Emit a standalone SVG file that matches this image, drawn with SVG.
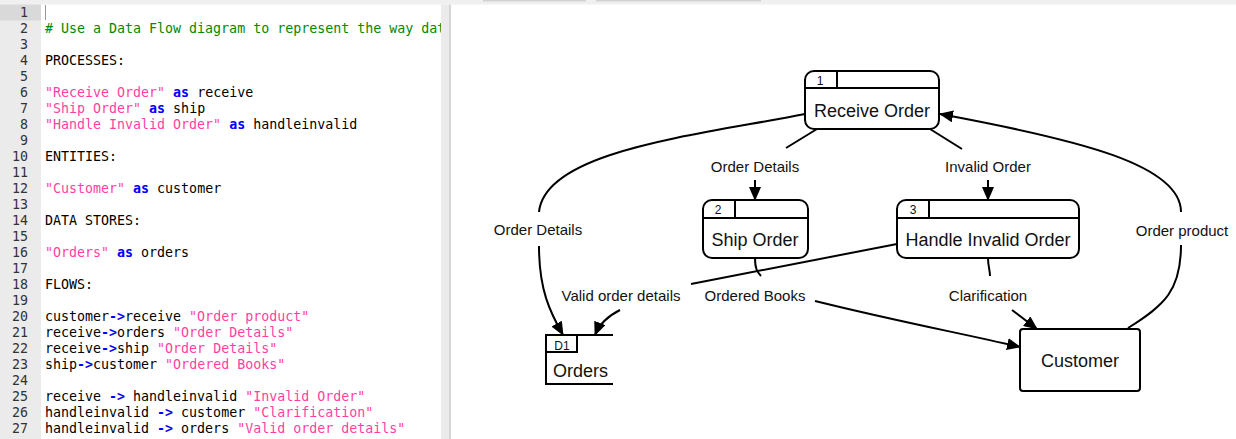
<svg xmlns="http://www.w3.org/2000/svg" width="1236" height="439" viewBox="0 0 1236 439">
<style>
.code{font-family:"DejaVu Sans Mono",monospace;font-size:13.3px;fill:#000}
.ln{font-family:"DejaVu Sans Mono",monospace;font-size:13.3px;fill:#333;text-anchor:end}
.cm{fill:#008a00}
.st{fill:#ff3fa4}
.kw{fill:#0000ff;font-weight:bold}
.box{fill:#fff;stroke:#000;stroke-width:2}
.sep{fill:none;stroke:#000;stroke-width:2}
.nm{font-family:"Liberation Sans",Arial,sans-serif;font-size:18px;fill:#111;text-anchor:middle}
.num{font-family:"Liberation Sans",Arial,sans-serif;font-size:12px;fill:#111;text-anchor:middle}
.lbl{font-family:"Liberation Sans",Arial,sans-serif;font-size:15px;fill:#111;text-anchor:middle}
.edge{fill:none;stroke:#000;stroke-width:2}
</style>
<defs>
<marker id="ah" markerUnits="userSpaceOnUse" markerWidth="14" markerHeight="12" refX="13" refY="6" orient="auto" viewBox="0 0 14 12">
<path d="M0,0 L14,6 L0,12 z" fill="#000"/>
</marker>
<clipPath id="edclip"><rect x="41" y="4" width="400" height="435"/></clipPath>
</defs>
<rect x="0" y="0" width="1236" height="439" fill="#fff"/>
<rect x="0" y="0" width="1236" height="4.5" fill="#f0f0f0"/>
<rect x="483" y="0" width="103" height="1.5" fill="#d2d2d2"/>
<rect x="596" y="0" width="165" height="1.5" fill="#d2d2d2"/>
<g id="editor">
<rect x="0" y="4.5" width="41" height="435" fill="#ebebeb"/>
<rect x="0" y="4.5" width="41" height="16" fill="#d9d9d9"/>
<rect x="441" y="4.5" width="9" height="435" fill="#ebebeb"/>
<rect x="449" y="4.5" width="2" height="435" fill="#d6d6d6"/>
<line x1="45.5" y1="5" x2="45.5" y2="20" stroke="#999" stroke-width="1"/>
<g class="ln">
<text x="28" y="17">1</text><text x="28" y="33">2</text><text x="28" y="49">3</text><text x="28" y="65">4</text><text x="28" y="81">5</text><text x="28" y="97">6</text><text x="28" y="113">7</text><text x="28" y="129">8</text><text x="28" y="145">9</text><text x="28" y="161">10</text><text x="28" y="177">11</text><text x="28" y="193">12</text><text x="28" y="209">13</text><text x="28" y="225">14</text><text x="28" y="241">15</text><text x="28" y="257">16</text><text x="28" y="273">17</text><text x="28" y="289">18</text><text x="28" y="305">19</text><text x="28" y="321">20</text><text x="28" y="337">21</text><text x="28" y="353">22</text><text x="28" y="369">23</text><text x="28" y="385">24</text><text x="28" y="401">25</text><text x="28" y="417">26</text><text x="28" y="433">27</text>
</g>
<g class="code" clip-path="url(#edclip)">
<text x="45" y="33" class="code cm"># Use a Data Flow diagram to represent the way dat</text>
<text x="45" y="65">PROCESSES:</text>
<text x="45" y="97"><tspan class="st">"Receive Order"</tspan> <tspan class="kw">as</tspan> receive</text>
<text x="45" y="113"><tspan class="st">"Ship Order"</tspan> <tspan class="kw">as</tspan> ship</text>
<text x="45" y="129"><tspan class="st">"Handle Invalid Order"</tspan> <tspan class="kw">as</tspan> handleinvalid</text>
<text x="45" y="161">ENTITIES:</text>
<text x="45" y="193"><tspan class="st">"Customer"</tspan> <tspan class="kw">as</tspan> customer</text>
<text x="45" y="225">DATA STORES:</text>
<text x="45" y="257"><tspan class="st">"Orders"</tspan> <tspan class="kw">as</tspan> orders</text>
<text x="45" y="289">FLOWS:</text>
<text x="45" y="321">customer<tspan class="kw">-&gt;</tspan>receive <tspan class="st">"Order product"</tspan></text>
<text x="45" y="337">receive<tspan class="kw">-&gt;</tspan>orders <tspan class="st">"Order Details"</tspan></text>
<text x="45" y="353">receive<tspan class="kw">-&gt;</tspan>ship <tspan class="st">"Order Details"</tspan></text>
<text x="45" y="369">ship<tspan class="kw">-&gt;</tspan>customer <tspan class="st">"Ordered Books"</tspan></text>
<text x="45" y="401">receive <tspan class="kw">-&gt;</tspan> handleinvalid <tspan class="st">"Invalid Order"</tspan></text>
<text x="45" y="417">handleinvalid <tspan class="kw">-&gt;</tspan> customer <tspan class="st">"Clarification"</tspan></text>
<text x="45" y="433">handleinvalid <tspan class="kw">-&gt;</tspan> orders <tspan class="st">"Valid order details"</tspan></text>
</g>
</g>
<g id="connectors">
<path class="edge" d="M805,114 C700,135 545,150 539,212" />
<path class="edge" d="M539,246 C539,290 550,312 563,335" marker-end="url(#ah)"/>
<path class="edge" d="M817,129 L786,148"/>
<path class="edge" d="M755,180 L755,200" marker-end="url(#ah)"/>
<path class="edge" d="M930,129 L962,149"/>
<path class="edge" d="M988,180 L988,200" marker-end="url(#ah)"/>
<path class="edge" d="M1128,328 C1165,305 1181,290 1181,245"/>
<path class="edge" d="M1181,212 C1181,165 1080,140 940,114" marker-end="url(#ah)"/>
<path class="edge" d="M755,258 C755,268 757,272 761,276"/>
<path class="edge" d="M815,301 C900,322 960,333 1020,347" marker-end="url(#ah)"/>
<path class="edge" d="M988,258 C988,266 990,270 990,276"/>
<path class="edge" d="M1012,310 L1037,329" marker-end="url(#ah)"/>
<path class="edge" d="M897,244 L691,284"/>
<path class="edge" d="M620,310 C608,316 599,325 595,335" marker-end="url(#ah)"/>
<text class="lbl" x="538" y="235">Order Details</text>
<text class="lbl" x="755" y="172">Order Details</text>
<text class="lbl" x="988" y="172">Invalid Order</text>
<text class="lbl" x="1182" y="236">Order product</text>
<text class="lbl" x="621" y="301">Valid order details</text>
<text class="lbl" x="755" y="301">Ordered Books</text>
<text class="lbl" x="988" y="301">Clarification</text>
</g>
<g id="receive">
<rect class="box" x="805" y="71" width="134" height="58" rx="9"/>
<path class="sep" d="M805,88 H939 M837,71 V88"/>
<text class="num" x="820" y="85">1</text>
<text class="nm" x="872" y="117">Receive Order</text>
</g>
<g id="ship">
<rect class="box" x="703" y="200" width="105" height="58" rx="9"/>
<path class="sep" d="M703,218 H808 M735,200 V218"/>
<text class="num" x="718" y="214">2</text>
<text class="nm" x="755" y="246">Ship Order</text>
</g>
<g id="handleinvalid">
<rect class="box" x="897" y="200" width="182" height="58" rx="9"/>
<path class="sep" d="M897,218 H1079 M929,200 V218"/>
<text class="num" x="913" y="214">3</text>
<text class="nm" x="988" y="246">Handle Invalid Order</text>
</g>
<g id="customer">
<rect class="box" x="1020" y="329" width="120" height="62" rx="3"/>
<text class="nm" x="1080" y="367">Customer</text>
</g>
<g id="orders">
<path class="sep" d="M613,335 H546 V384 H613"/>
<path class="sep" d="M546,352 H577 V335"/>
<text class="num" x="562" y="350">D1</text>
<text class="nm" x="553" y="377" style="text-anchor:start">Orders</text>
</g>
</svg>
